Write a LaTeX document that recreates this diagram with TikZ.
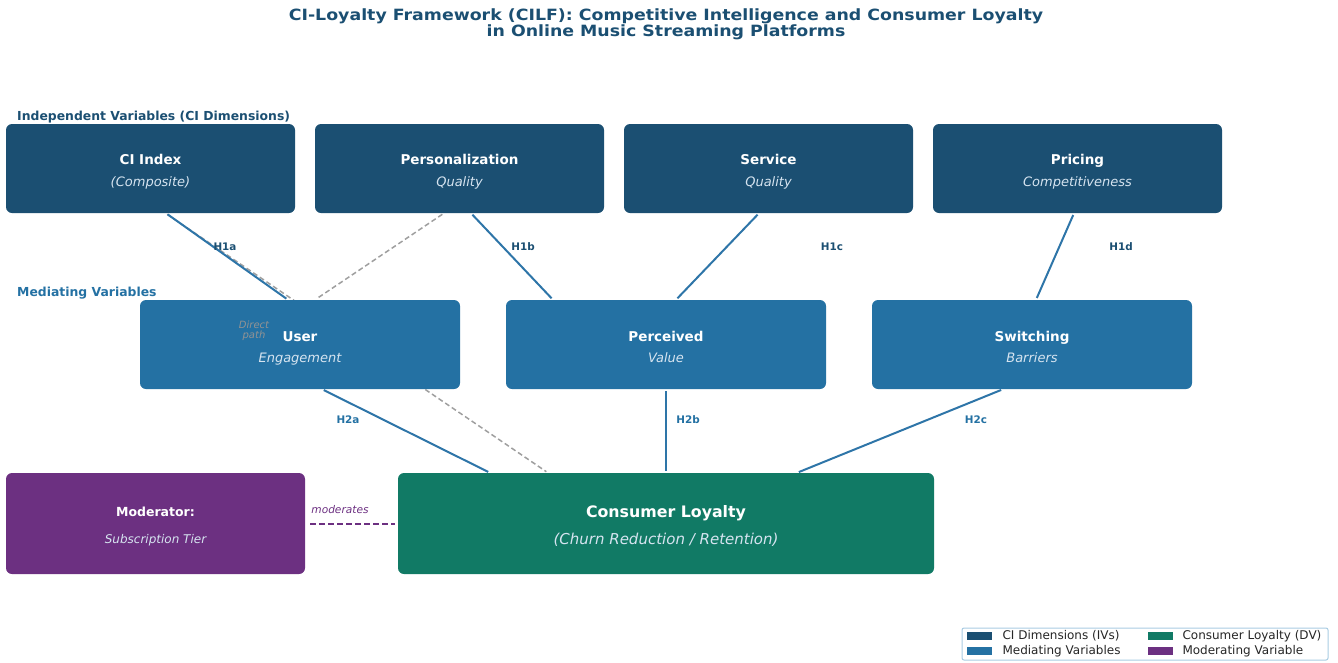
\documentclass[tikz,border=0pt]{standalone}
\usepackage{fontspec}
\setmainfont{DejaVu Sans}
\usetikzlibrary{calc,backgrounds}
\definecolor{ivblue}{HTML}{1B4F72}
\definecolor{medblue}{HTML}{2471A3}
\definecolor{linkblue}{HTML}{2E75A8}
\definecolor{dvgreen}{HTML}{117A65}
\definecolor{modpurple}{HTML}{6C3081}
\definecolor{subtxt}{HTML}{D6E4F0}
\definecolor{legborder}{HTML}{A9CCE3}
\tikzset{
  box/.style={draw=none, rounded corners=6pt, inner sep=0pt},
  ivbox/.style={box, fill=ivblue, minimum width=289pt, minimum height=89pt},
  medbox/.style={box, fill=medblue, minimum width=320pt, minimum height=89pt},
  ttl/.style={anchor=base, inner sep=0pt, text=white, font=\fontsize{13.5}{14}\selectfont\bfseries},
  sub/.style={anchor=base, inner sep=0pt, text=subtxt, font=\fontsize{13}{14}\selectfont\itshape},
  hlab/.style={font=\fontsize{10.4}{11}\selectfont\bfseries},
  link/.style={draw=linkblue, line width=2pt, shorten <=2pt, shorten >=2pt},
  direct/.style={draw=gray!75, line width=1.5pt, dash pattern=on 5pt off 3pt, shorten <=2pt, shorten >=2pt},
  seclab/.style={anchor=west, inner sep=0pt, font=\fontsize{12.4}{13}\selectfont\bfseries},
  legtxt/.style={anchor=west, font=\fontsize{12}{13}\selectfont, text=black!85},
  swatch/.style={minimum width=25pt, minimum height=8pt, inner sep=0pt},
}
\begin{document}
\begin{tikzpicture}[x=1pt, y=-1pt]
\useasboundingbox (0,0) rectangle (1338,662);

% title
\node[text=ivblue, align=center, font=\fontsize{15.5}{16}\selectfont\bfseries] (title) at (666,24)
  {\scalebox{1.12}[1]{CI-Loyalty Framework (CILF): Competitive Intelligence and Consumer Loyalty}\\
   \scalebox{1.12}[1]{in Online Music Streaming Platforms}};

% section labels
\node[seclab, text=ivblue] (ivlab) at (17,117) {Independent Variables (CI Dimensions)};
\node[seclab, text=medblue] (medlab) at (17,293) {Mediating Variables};

% independent variables
\node[ivbox] (ci) at (150.5,168.5) {};
\node[ivbox] (pers) at (459.5,168.5) {};
\node[ivbox] (serv) at (768.5,168.5) {};
\node[ivbox] (price) at (1077.5,168.5) {};
\foreach \n/\a/\b in {ci/CI Index/(Composite), pers/Personalization/Quality, serv/Service/Quality, price/Pricing/Competitiveness}{
  \node[ttl] (\n-t) at ($(\n.center)+(0,-4.5)$) {\a};
  \node[sub] (\n-s) at ($(\n.center)+(0,18)$) {\b};
}

% mediating variables
\node[medbox] (user) at (300,344.5) {};
\node[medbox] (perc) at (666,344.5) {};
\node[medbox] (swit) at (1032,344.5) {};
\foreach \n/\a/\b in {user/User/Engagement, perc/Perceived/Value, swit/Switching/Barriers}{
  \node[ttl] (\n-t) at ($(\n.center)+(0,-3.5)$) {\a};
  \node[sub] (\n-s) at ($(\n.center)+(0,18)$) {\b};
}

% moderator and dependent variable
\node[box, fill=modpurple, minimum width=299pt, minimum height=101pt] (mod) at (155.5,523.5) {};
\node[ttl, font=\fontsize{12.5}{13}\selectfont\bfseries] (mod-t) at ($(mod.center)+(0,-7)$) {Moderator:};
\node[sub, font=\fontsize{12}{13}\selectfont\itshape] (mod-s) at ($(mod.center)+(0,20)$) {Subscription Tier};
\node[box, fill=dvgreen, minimum width=536pt, minimum height=101pt] (cl) at (666,523.5) {};
\node[ttl, font=\fontsize{15.8}{17}\selectfont\bfseries] (cl-t) at ($(cl.center)+(0,-5.75)$) {Consumer Loyalty};
\node[sub, font=\fontsize{15}{16}\selectfont\itshape] (cl-s) at ($(cl.center)+(0,21)$) {(Churn Reduction / Retention)};

% connectors
\begin{pgfonlayer}{background}
  \draw[direct] ($(ci.south)+(15,0)$) -- ($(cl.north)+(-118,0)$);
  \draw[direct] ($(pers.south)+(-15.5,0)$) -- ($(user.north)+(15,0)$);
  \draw[link] ($(ci.south)+(15.5,0)$) -- ($(user.north)+(-12,0)$);
  \draw[link] ($(pers.south)+(11.5,0)$) -- ($(perc.north)+(-113,0)$);
  \draw[link] ($(serv.south)+(-9.5,0)$) -- ($(perc.north)+(10,0)$);
  \draw[link] ($(price.south)+(-3.5,0)$) -- ($(swit.north)+(4,0)$);
  \draw[link] ($(user.south)+(22,0)$) -- ($(cl.north)+(-176,0)$);
  \draw[link] (perc.south) -- (cl.north);
  \draw[link] ($(swit.south)+(-29,0)$) -- ($(cl.north)+(131,0)$);
\end{pgfonlayer}
\draw[draw=modpurple, line width=2pt, dash pattern=on 6pt off 3pt, shorten <=5pt, shorten >=3pt] (mod.east) -- (cl.west);
\node[text=modpurple, font=\fontsize{10.6}{11}\selectfont\itshape] (modlab) at (340,510) {moderates};

% path labels
\node[hlab, text=ivblue] (h1a) at (225,247) {H1a};
\node[hlab, text=ivblue] (h1b) at (523,247) {H1b};
\node[hlab, text=ivblue] (h1c) at (832,247) {H1c};
\node[hlab, text=ivblue] (h1d) at (1121,247) {H1d};
\node[hlab, text=medblue] (h2a) at (348,420) {H2a};
\node[hlab, text=medblue] (h2b) at (688,420) {H2b};
\node[hlab, text=medblue] (h2c) at (976,420) {H2c};
\node[text=gray!85, align=center, font=\fontsize{10}{10}\selectfont\itshape] (dlab) at (254,331) {Direct\\path};

% legend
\node[draw=legborder, line width=1pt, fill=white, rounded corners=2pt, minimum width=366pt, minimum height=32pt, inner sep=0pt] (leg) at (1145,644) {};
\node[swatch, fill=ivblue] (sw1) at (979.5,636) {};
\node[legtxt] (l1) at (999,636) {CI Dimensions (IVs)};
\node[swatch, fill=medblue] (sw2) at (979.5,651) {};
\node[legtxt] (l2) at (999,651) {Mediating Variables};
\node[swatch, fill=dvgreen] (sw3) at (1160.5,636) {};
\node[legtxt] (l3) at (1179,636) {Consumer Loyalty (DV)};
\node[swatch, fill=modpurple] (sw4) at (1160.5,651) {};
\node[legtxt] (l4) at (1179,651) {Moderating Variable};
\end{tikzpicture}
\end{document}
